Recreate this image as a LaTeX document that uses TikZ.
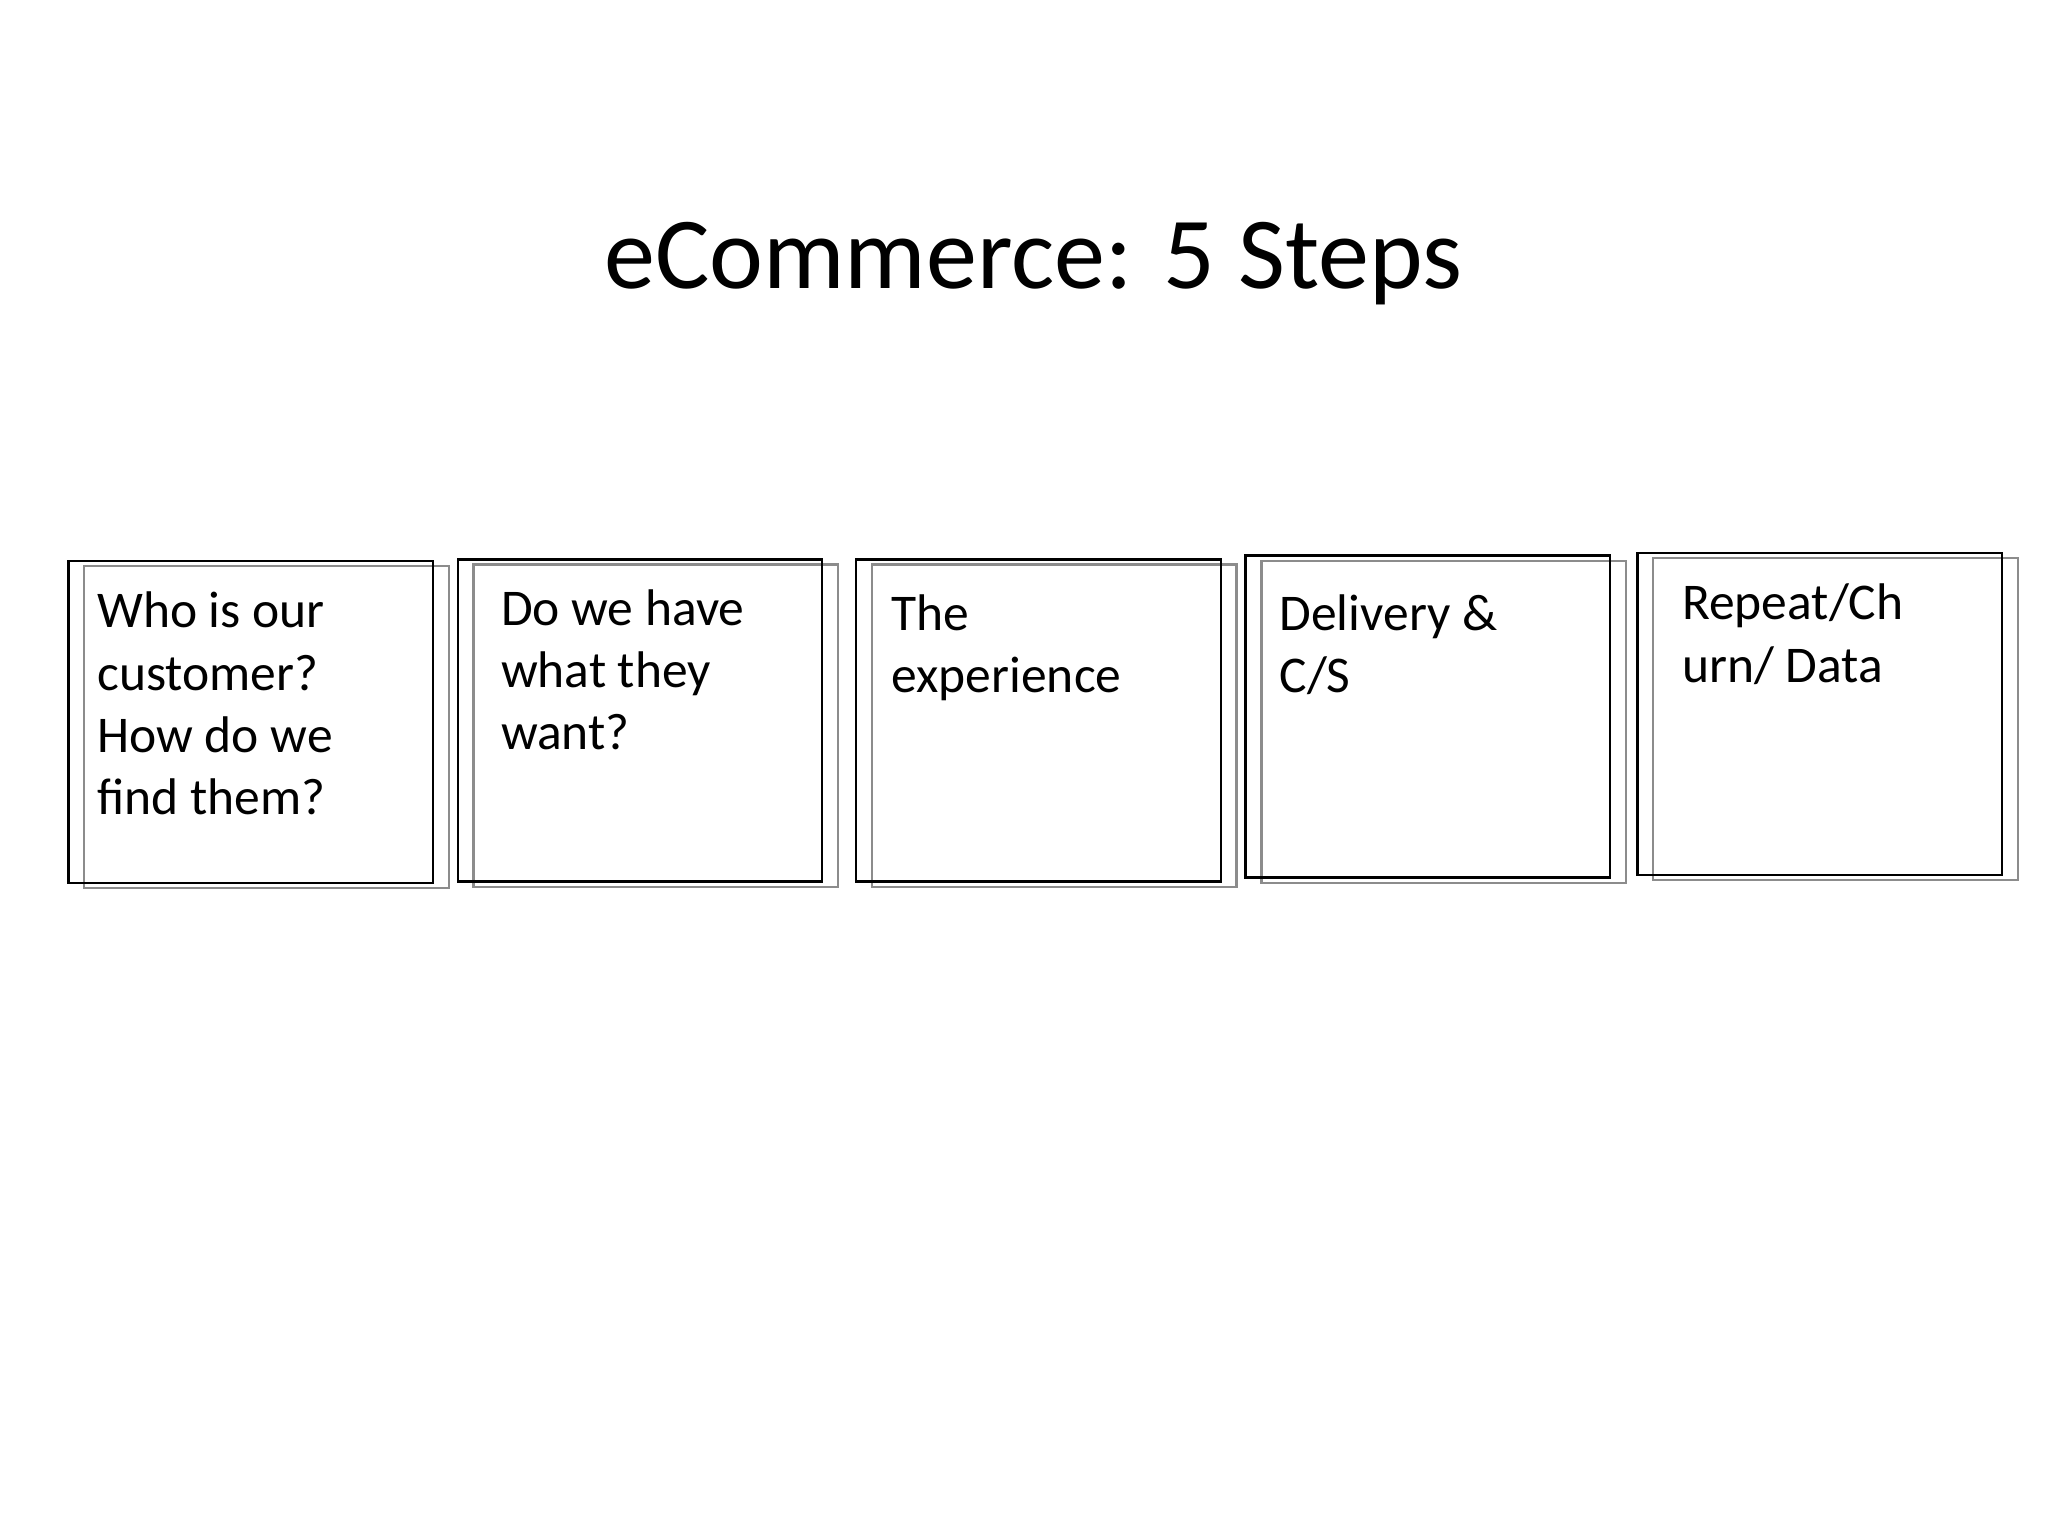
\documentclass[tikz,border=0pt]{standalone}
\usepackage{fontspec}
\setmainfont{Carlito}
\begin{document}
\begin{tikzpicture}[x=0.01cm,y=-0.01cm,
  blk/.style={draw=black,line width=0.5pt,minimum width=2.76cm,minimum height=2.44cm,inner sep=0,anchor=north west},
  gry/.style={draw=black!45,line width=0.5pt,minimum width=2.76cm,minimum height=2.44cm,inner sep=0,anchor=north west},
  txt/.style={anchor=north west,align=left,inner sep=0,font=\fontsize{11.1pt}{13.4pt}\selectfont}]
\useasboundingbox[fill=white] (0,0) rectangle (1552,1164);
\node[font=\fontsize{22pt}{26pt}\selectfont] (title) at (783,200) {eCommerce: 5 Steps};
\node[gry] (g1) at (63,428) {};  \node[blk] (b1) at (51,424) {};
\node[gry] (g2) at (358,427) {}; \node[blk] (b2) at (346,423) {};
\node[gry] (g3) at (660,427) {}; \node[blk] (b3) at (648,423) {};
\node[gry] (g4) at (955,424) {}; \node[blk] (b4) at (943,420) {};
\node[gry] (g5) at (1252,422) {};\node[blk] (b5) at (1240,418) {};
\node[txt] (t1) at (73,448) {Who is our\\customer?\\How do we\\find them?};
\node[txt] (t2) at (379,446) {Do we have\\what they\\want?};
\node[txt] (t3) at (675,450) {The\\experience};
\node[txt] (t4) at (969,450) {Delivery \&\\C/S};
\node[txt] (t5) at (1274,442) {Repeat/Ch\\urn/ Data};
\end{tikzpicture}
\end{document}
